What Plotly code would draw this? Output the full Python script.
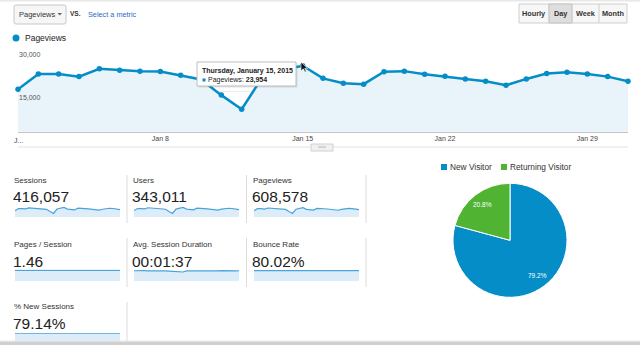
import math
import plotly.graph_objects as go
import pandas as pd

# ---------------- data ----------------
dates = pd.date_range("2015-01-01", "2015-01-31", freq="D")
pageviews = [15800, 21100, 21100, 20200, 22900, 22400, 22100, 22000, 20700, 19200,
             13800, 8900, 19800, 22600, 23954, 19600, 17900, 17600, 21900, 22100,
             21000, 20300, 19400, 18600, 17200, 19400, 21300, 21700, 21100, 20200, 18600]
sessions = [10800, 14500, 14400, 13800, 15700, 15300, 15200, 15100, 14200, 13200,
            9500, 6100, 13600, 15500, 16400, 13400, 12300, 12100, 15000, 15200,
            14400, 13900, 13300, 12700, 11800, 13300, 14600, 14900, 14500, 13800, 12700]
users = [9000, 12000, 11900, 11400, 13000, 12700, 12500, 12500, 11700, 10900,
         7800, 5000, 11200, 12800, 13500, 11100, 10100, 10000, 12400, 12500,
         11900, 11500, 11000, 10500, 9700, 11000, 12100, 12300, 12000, 11400, 10500]
pages_per_session = [1.46, 1.46, 1.47, 1.46, 1.46, 1.46, 1.45, 1.46, 1.46, 1.45,
                     1.45, 1.44, 1.46, 1.46, 1.47, 1.46, 1.45, 1.46, 1.46, 1.45,
                     1.46, 1.46, 1.46, 1.47, 1.46, 1.46, 1.46, 1.45, 1.46, 1.46, 1.46]
avg_duration = [98, 100, 96, 99, 97, 101, 98, 96, 99, 97, 95, 93, 95, 90, 86, 96,
                95, 98, 96, 99, 97, 96, 98, 95, 97, 99, 97, 96, 98, 97, 98]
bounce_rate = [80.1, 80.0, 80.2, 79.9, 80.0, 80.1, 80.0, 79.9, 80.0, 80.1, 80.3,
               80.5, 80.0, 79.8, 79.7, 80.0, 80.1, 80.0, 79.9, 80.0, 80.1, 80.0,
               80.0, 80.1, 80.2, 80.0, 79.9, 80.0, 80.0, 80.1, 80.1]
new_sessions = [79.2, 79.0, 79.1, 79.2, 79.0, 79.1, 79.2, 79.1, 79.0, 79.2, 79.4,
                79.6, 79.1, 79.0, 79.3, 79.1, 79.2, 79.0, 79.1, 79.2, 79.1, 79.0,
                79.2, 79.1, 79.2, 79.1, 79.0, 79.1, 79.2, 79.1, 79.2]

metric_labels = ["Sessions", "Users", "Pageviews", "Pages / Session",
                 "Avg. Session Duration", "Bounce Rate", "% New Sessions"]
metric_values = ["416,057", "343,011", "608,578", "1.46", "00:01:37", "80.02%", "79.14%"]
metric_series = [sessions, users, pageviews, pages_per_session, avg_duration,
                 bounce_rate, new_sessions]
metric_ymax = [18800, 15500, 28000, 1.57, 110, 88, 80.5]

pie_labels = ["New Visitor", "Returning Visitor"]
pie_values = [79.2, 20.8]
pie_colors = ["#058dc7", "#50b432"]

y_tick_vals = [15000, 30000]
y_tick_text = ["15,000", "30,000"]
tick_vals = ["2015-01-01", "2015-01-08", "2015-01-15", "2015-01-22", "2015-01-29"]
tick_text = ["J...", "Jan 8", "Jan 15", "Jan 22", "Jan 29"]
interval_buttons = ["Hourly", "Day", "Week", "Month"]

FONT = "Liberation Sans, Arial, sans-serif"
W, H = 640, 345
PAD = 2  # annotation inner padding


def X(px):
    return px / W


def Y(py):
    return 1 - py / H


fig = go.Figure()
shapes = []
ann = []


def rect(x0, y0, x1, y1, fill=None, line=None, lw=1, layer="above"):
    shapes.append(dict(type="rect", xref="paper", yref="paper",
                       x0=X(x0), x1=X(x1), y0=Y(y1), y1=Y(y0),
                       fillcolor=fill if fill else "rgba(0,0,0,0)",
                       line=dict(color=line if line else "rgba(0,0,0,0)", width=lw if line else 0),
                       layer=layer))


def hline(x0, x1, y, color, w=1):
    shapes.append(dict(type="line", xref="paper", yref="paper", x0=X(x0), x1=X(x1),
                       y0=Y(y), y1=Y(y), line=dict(color=color, width=w)))


def vline(x, y0, y1, color, w=1):
    shapes.append(dict(type="line", xref="paper", yref="paper", x0=X(x), x1=X(x),
                       y0=Y(y0), y1=Y(y1), line=dict(color=color, width=w)))


def text(x, y, s, size, color="#333", xanchor="left", bold=False):
    if bold:
        s = "<b>" + s + "</b>"
    if xanchor == "left":
        x = x - PAD
    ann.append(dict(x=X(x), y=Y(y), xref="paper", yref="paper", text=s, showarrow=False,
                    xanchor=xanchor, yanchor="middle", font=dict(size=size, color=color, family=FONT)))


# ---------------- main chart ----------------
fig.add_trace(go.Scatter(
    x=dates, y=pageviews, mode="lines+markers", fill="tozeroy",
    fillcolor="#e9f3fa", line=dict(color="#058dc7", width=2.5),
    marker=dict(size=5.5, color="#058dc7"), cliponaxis=False, hoverinfo="skip",
    xaxis="x", yaxis="y"))

layout_axes = dict(
    xaxis=dict(domain=[X(18), X(628)], range=["2015-01-01", "2015-01-31"],
               tickvals=tick_vals[1:], ticktext=tick_text[1:], showgrid=False, showline=True,
               linecolor="#c4c4c4", linewidth=1, ticks="", zeroline=False,
               tickfont=dict(size=7, color="#444", family=FONT)),
    yaxis=dict(domain=[Y(131.7), Y(48.3)], range=[1142, 30000], tickvals=y_tick_vals,
               showticklabels=False, showgrid=True, gridcolor="#ececec", gridwidth=1,
               zeroline=False, ticks=""),
)
# first (truncated) date label and y tick labels, anchored on the axes' scales
ann.append(dict(x=tick_vals[0], xref="x", y=Y(140), yref="paper", text=tick_text[0],
                showarrow=False, xanchor="center", yanchor="middle",
                font=dict(size=7, color="#444", family=FONT)))
for v, t in zip(y_tick_vals, y_tick_text):
    ann.append(dict(x=X(18.5 - PAD), xref="paper", y=v, yref="y", text=t, showarrow=False,
                    xanchor="left", yanchor="top", yshift=-0.5,
                    font=dict(size=7, color="#555", family=FONT)))

# ---------------- sparklines ----------------
cols = [15, 134, 254]
rows_box = [(206, 217), (269.5, 281), (333, 345)]
for i, series in enumerate(metric_series):
    r, c = divmod(i, 3)
    n = i + 2
    fig.add_trace(go.Scatter(
        x=dates, y=series, mode="lines", fill="tozeroy", fillcolor="#dcecf8",
        line=dict(color="#4ba3da", width=1.2), hoverinfo="skip",
        xaxis=f"x{n}", yaxis=f"y{n}"))
    x0 = cols[c]
    y0, y1 = rows_box[r]
    layout_axes[f"xaxis{n}"] = dict(domain=[X(x0), X(x0 + 105)], visible=False,
                                    range=["2015-01-01", "2015-01-31"])
    layout_axes[f"yaxis{n}"] = dict(domain=[Y(y1), Y(y0)], visible=False,
                                    range=[0, metric_ymax[i]])
    label_y = [180.7, 244, 306.7][r]
    value_y = [196.7, 261, 323][r]
    text(x0 - 1.5, label_y, metric_labels[i], 8, "#333")
    text(x0 - 2, value_y, metric_values[i], 15.5, "#222")

# separators
for x in (127, 246.5, 366):
    vline(x, 175, 223, "#dcdcdc")
    vline(x, 238, 287, "#dcdcdc")
vline(127, 302, 342, "#dcdcdc")

# ---------------- pie ----------------
cx, cy, R = 510, 240.3, 57
fig.add_trace(go.Pie(
    labels=pie_labels, values=pie_values,
    marker=dict(colors=pie_colors, line=dict(color="white", width=1)),
    sort=False, direction="clockwise", rotation=0, textinfo="none", hoverinfo="skip",
    domain=dict(x=[X(cx - R), X(cx + R)], y=[Y(cy + R), Y(cy - R)]), showlegend=False))

total = sum(pie_values)
start = 0.0
for v in pie_values:
    mid = start + v / total * 360 / 2
    start += v / total * 360
    rr = 0.78 * R
    tx = cx + rr * math.sin(math.radians(mid))
    ty = cy - rr * math.cos(math.radians(mid))
    text(tx, ty, f"{v / total * 100:.1f}%", 6.5, "white", xanchor="center")

# pie legend
rect(441, 164, 447, 170, fill=pie_colors[0])
text(450, 167.3, pie_labels[0], 8.3, "#333")
rect(501, 164, 507, 170, fill=pie_colors[1])
text(510, 167.3, pie_labels[1], 8.3, "#333")

# ---------------- header controls ----------------
rect(0, 0, 640, 1.5, fill="#e8e8e8")
shapes.append(dict(type="path", xref="paper", yref="paper",
                   path=f"M {X(16)},{Y(5)} L {X(64)},{Y(5)} Q {X(66)},{Y(5)} {X(66)},{Y(7)} "
                        f"L {X(66)},{Y(22)} Q {X(66)},{Y(24)} {X(64)},{Y(24)} L {X(16)},{Y(24)} "
                        f"Q {X(14)},{Y(24)} {X(14)},{Y(22)} L {X(14)},{Y(7)} Q {X(14)},{Y(5)} {X(16)},{Y(5)} Z",
                   fillcolor="#f6f6f6", line=dict(color="#c8c8c8", width=1)))
text(18.5, 14.5, "Pageviews", 7.5, "#333")
shapes.append(dict(type="path", xref="paper", yref="paper",
                   path=f"M {X(57.5)},{Y(13)} L {X(62)},{Y(13)} L {X(59.75)},{Y(15.5)} Z",
                   fillcolor="#666", line=dict(width=0)))
text(70, 13.5, "VS.", 6.5, "#333", bold=True)
text(88, 14, "Select a metric", 7.3, "#2d6bbf")

btn_edges = [519, 549, 572, 599, 627]
rect(519, 4, 627, 23, fill="#f7f7f7", line="#cfcfcf")
rect(549, 4, 572, 23, fill="#dedede", line="#c4c4c4")
for x in btn_edges[1:-1]:
    vline(x, 4, 23, "#cfcfcf")
for i, b in enumerate(interval_buttons):
    text((btn_edges[i] + btn_edges[i + 1]) / 2, 13.8, b, 7.3, "#333", xanchor="center", bold=True)

# legend of main chart
shapes.append(dict(type="circle", xref="paper", yref="paper", x0=X(12.5), x1=X(19.5),
                   y0=Y(41.5), y1=Y(34.5), fillcolor="#058dc7", line=dict(width=0)))
text(24.5, 38, "Pageviews", 8.5, "#222")

# under-chart handle
hline(18, 628, 147, "#e2e2e2")
rect(311, 144, 333, 151, fill="#f0f0f0", line="#d0d0d0")
hline(318, 326, 147, "#aaaaaa", 0.8)

# tooltip
rect(198.5, 63.5, 297.5, 87.5, fill="rgba(0,0,0,0.10)")
rect(197, 62, 296, 86, fill="white", line="#bdbdbd")
text(202, 71, "Thursday, January 15, 2015", 7, "#222", bold=True)
rect(202.5, 78.5, 205.5, 81.5, fill="#058dc7")
text(208, 80, f"Pageviews: <b>{pageviews[14]:,}</b>", 7, "#222")

# cursor arrow
shapes.append(dict(type="path", xref="paper", yref="paper",
                   path=f"M {X(301)},{Y(62)} L {X(301)},{Y(71)} L {X(303.3)},{Y(68.8)} L {X(305)},{Y(72)} "
                        f"L {X(306.3)},{Y(71.4)} L {X(304.7)},{Y(68.3)} L {X(307.5)},{Y(68.3)} Z",
                   fillcolor="#111", line=dict(color="white", width=0.6)))

# bottom browser edge
rect(0, 340.5, 640, 341.7, fill="#e6e6e6")
rect(0, 341.7, 640, 345, fill="#cfcfcf")

fig.update_layout(
    width=W, height=H, margin=dict(l=0, r=0, t=0, b=0),
    paper_bgcolor="white", plot_bgcolor="white", showlegend=False,
    font=dict(family=FONT), shapes=shapes, annotations=ann, hovermode=False,
    **layout_axes)

fig.write_html("out.html")
